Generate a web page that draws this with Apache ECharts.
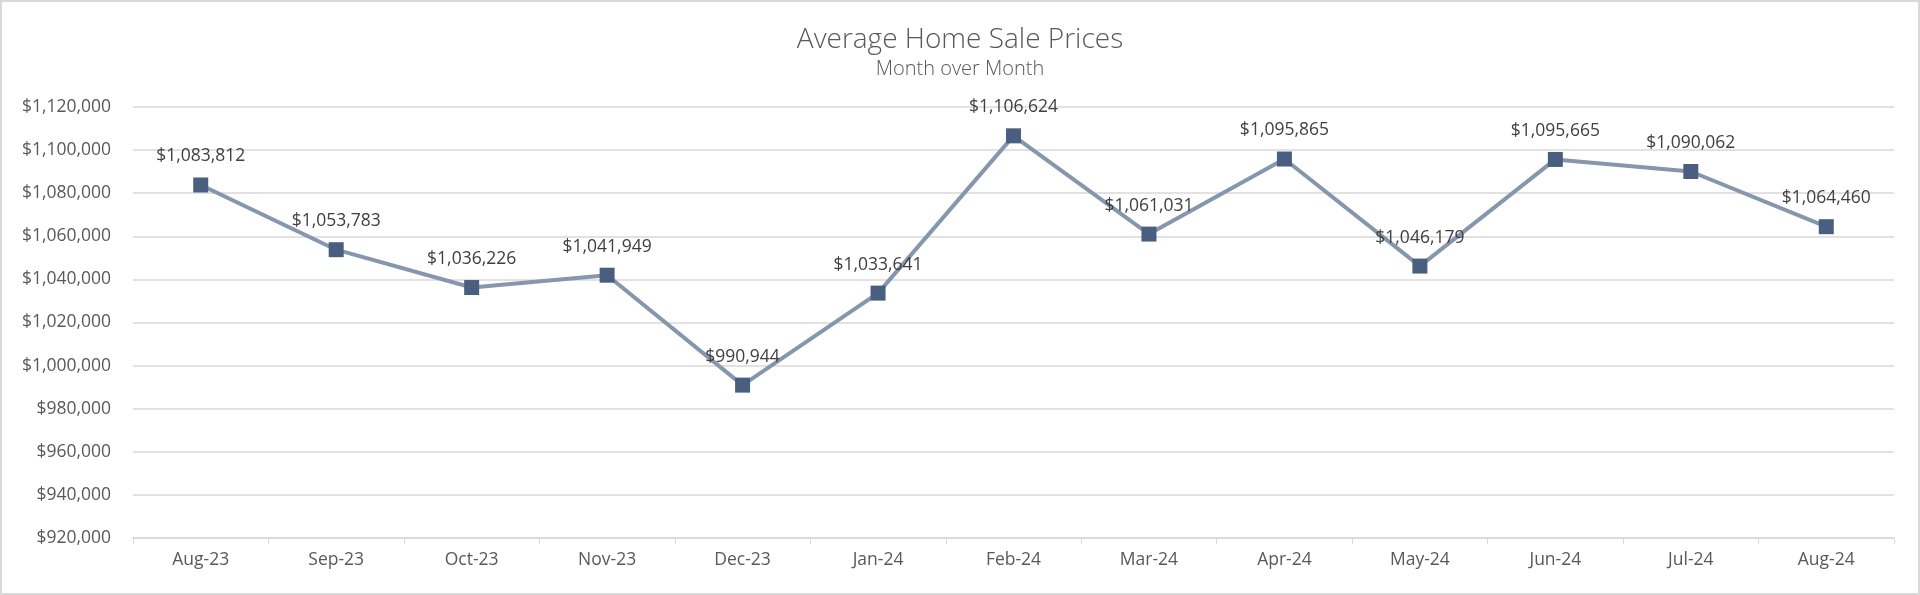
<!DOCTYPE html>
<html><head><meta charset="utf-8">
<script src="https://cdn.jsdelivr.net/npm/echarts@6/dist/echarts.min.js"></script>
<style>
html,body{margin:0;padding:0;background:#fff;}
#c{width:1920px;height:595px;box-sizing:border-box;border:2px solid #d9d9d9;}
</style></head>
<body><div id="c"></div>
<script>
const months = ['Aug-23','Sep-23','Oct-23','Nov-23','Dec-23','Jan-24','Feb-24','Mar-24','Apr-24','May-24','Jun-24','Jul-24','Aug-24'];
const prices = [1083812,1053783,1036226,1041949,990944,1033641,1106624,1061031,1095865,1046179,1095665,1090062,1064460];
const yMin = 920000, yMax = 1120000, yStep = 20000;

const fmt = v => '$' + v.toLocaleString('en-US');
const chart = echarts.init(document.getElementById('c'), null, {renderer:'canvas'});
chart.setOption({
  animation:false,
  textStyle:{fontFamily:'"Open Sans", sans-serif'},
  title:{
    text:'Average Home Sale Prices', subtext:'Month over Month', left:'center', top:19, itemGap:5,
    textStyle:{fontSize:28, fontWeight:300, color:'#595959', fontFamily:'"Open Sans", sans-serif'},
    subtextStyle:{fontSize:20, fontWeight:300, color:'#595959', fontFamily:'"Open Sans", sans-serif'}
  },
  grid:{left:131, right:24, top:105, bottom:55, containLabel:false},
  xAxis:{
    type:'category', data:months, boundaryGap:true,
    axisLine:{lineStyle:{color:'#d9d9d9', width:1.5}},
    axisTick:{show:true, length:6, lineStyle:{color:'#d9d9d9'}},
    axisLabel:{color:'#595959', fontSize:17.5, margin:13, fontFamily:'"Open Sans", sans-serif'}
  },
  yAxis:{
    type:'value', min:yMin, max:yMax, interval:yStep,
    axisLine:{show:false}, axisTick:{show:false},
    splitLine:{lineStyle:{color:'#d9d9d9', width:1.5}},
    axisLabel:{color:'#595959', fontSize:17.5, margin:22, formatter:fmt, fontFamily:'"Open Sans", sans-serif'}
  },
  series:[{
    type:'line', data:prices, symbol:'rect', symbolSize:15,
    lineStyle:{color:'#8596ad', width:4},
    itemStyle:{color:'#4a5f80'},
    label:{show:true, position:'top', distance:12, formatter:p=>fmt(p.value), color:'#404040', fontSize:17.5, fontFamily:'"Open Sans", sans-serif'},
    z:3
  }]
});
</script></body></html>
